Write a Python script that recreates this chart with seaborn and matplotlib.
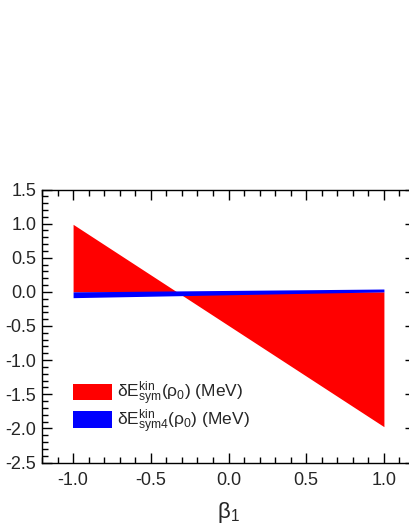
import numpy as np
import pandas as pd
import matplotlib
matplotlib.use("Agg")
import matplotlib.pyplot as plt
import seaborn as sns
from matplotlib.patches import Patch
from matplotlib.ticker import MultipleLocator

# band end points (beta_1 = -1 and +1)
beta1 = [-1.0, 1.0]
esym_upper = [0.99, -1.975]
esym_lower = [0.0, 0.0]
esym4_upper = [0.0, 0.042]
esym4_lower = [-0.085, 0.0]

labels = [r"δ$\mathregular{E^{kin}_{sym}}$(ρ$\mathregular{_0}$) (MeV)",
          r"δ$\mathregular{E^{kin}_{sym4}}$(ρ$\mathregular{_0}$) (MeV)"]
colors = ["#ff0000", "#0000ff"]


def main():
    df = pd.DataFrame({
        "beta1": beta1,
        "esym_lo": esym_lower, "esym_hi": esym_upper,
        "esym4_lo": esym4_lower, "esym4_hi": esym4_upper,
    })

    sns.set_theme(style="ticks")
    plt.rcParams["font.family"] = ["Liberation Sans", "DejaVu Sans"]
    plt.rcParams["mathtext.fontset"] = "custom"
    plt.rcParams["mathtext.rm"] = "Liberation Sans"

    fig = plt.figure(figsize=(4.09, 5.29), dpi=100)
    # axes box runs a little past the right edge, as in the reference
    ax = fig.add_axes([42 / 409, 66.5 / 529, 373 / 409, 273 / 529])

    ax.fill_between(df["beta1"], df["esym_lo"], df["esym_hi"],
                    color=colors[0], linewidth=0)
    ax.fill_between(df["beta1"], df["esym4_lo"], df["esym4_hi"],
                    color=colors[1], linewidth=0)

    ax.set_xlim(-1.2, 1.2)
    ax.set_ylim(-2.5, 1.5)
    ax.xaxis.set_major_locator(MultipleLocator(0.5))
    ax.xaxis.set_minor_locator(MultipleLocator(0.1))
    ax.yaxis.set_major_locator(MultipleLocator(0.5))
    ax.yaxis.set_minor_locator(MultipleLocator(0.1))
    ax.xaxis.set_major_formatter(lambda v, p: f"{v:.1f}")
    ax.yaxis.set_major_formatter(lambda v, p: f"{v:.1f}")

    ax.tick_params(which="both", direction="in", top=True, right=True,
                   color="black", width=1.0)
    ax.tick_params(which="major", length=7, labelsize=13)
    ax.tick_params(axis="x", which="major", pad=7)
    ax.tick_params(axis="y", which="major", pad=4)
    ax.tick_params(which="minor", length=4)
    for s in ax.spines.values():
        s.set_color("black")
        s.set_linewidth(1.0)

    ax.set_xlabel(r"β$\mathregular{_1}$", fontsize=16, labelpad=8)
    ax.set_ylabel("")

    handles = [Patch(facecolor=c, edgecolor="none") for c in colors]
    ax.legend(handles, labels, loc="lower left", bbox_to_anchor=(0.075, 0.085),
              frameon=False, fontsize=12.5, handlelength=2.2, handleheight=1.1,
              handletextpad=0.3, labelspacing=-0.02, borderpad=0.2,
              borderaxespad=0)

    fig.savefig("out.png", dpi=100)


if __name__ == "__main__":
    main()
